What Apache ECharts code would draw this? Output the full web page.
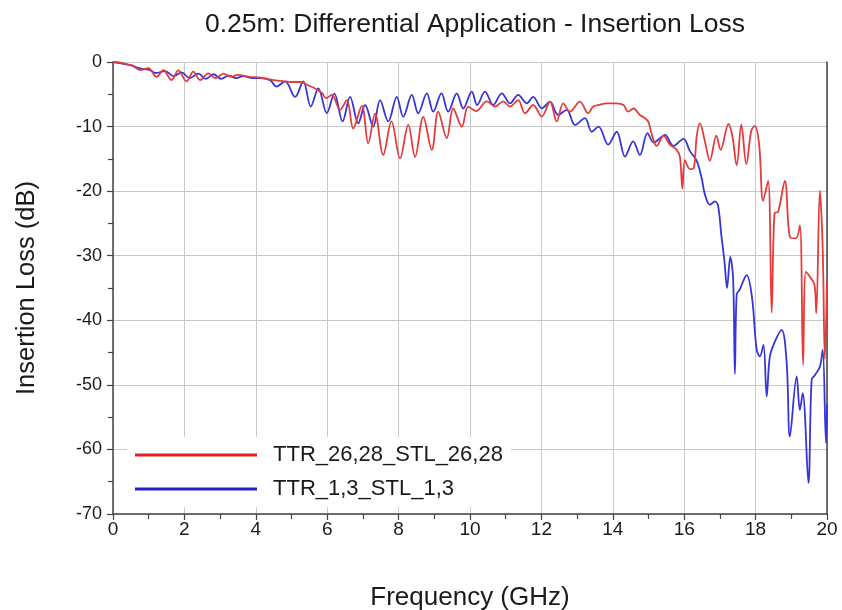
<!DOCTYPE html>
<html>
<head>
<meta charset="utf-8">
<script src="https://cdn.jsdelivr.net/npm/echarts@6/dist/echarts.min.js"></script>
<style>
html,body{margin:0;padding:0;background:#fff;}
#chart{width:842px;height:610px;}
</style>
</head>
<body>
<div id="chart"></div>
<script>
// ---- data ----
const titleText = '0.25m: Differential Application - Insertion Loss';
const xName = 'Frequency (GHz)';
const yName = 'Insertion Loss (dB)';
const seriesNames = ['TTR_26,28_STL_26,28', 'TTR_1,3_STL_1,3'];
const xTicks = [0, 2, 4, 6, 8, 10, 12, 14, 16, 18, 20];
const yTicks = [0, -10, -20, -30, -40, -50, -60, -70];

// TTR_26,28_STL_26,28 : [frequency GHz, loss dB]
const redCurve = [
  [0,0],[0.3,-0.2],[0.55,-0.6],[0.76,-1.25],[0.99,-0.95],[1.22,-2.3],[1.41,-1.25],[1.64,-2.8],
  [1.83,-1.3],[2.06,-3.0],[2.25,-1.5],[2.44,-2.8],[2.67,-1.75],[2.86,-2.5],[3.1,-1.8],[3.3,-2.3],
  [3.5,-2.0],[3.8,-2.3],[4.1,-2.4],[4.5,-2.8],[4.8,-3.0],[5.0,-3.1],[5.24,-3.1],[5.5,-3.7],
  [5.66,-4.1],[5.85,-4.8],[5.97,-5.6],[6.13,-5.1],[6.36,-7.4],[6.55,-5.9],[6.73,-10.3],[6.97,-6.8],
  [7.15,-12.6],[7.34,-8.0],[7.57,-14.4],[7.8,-9.2],[8.04,-14.9],[8.27,-9.75],[8.46,-14.7],[8.69,-8.5],
  [8.93,-13.6],[9.11,-7.7],[9.35,-11.8],[9.53,-7.2],[9.77,-10.0],[9.95,-6.9],[10.17,-7.6],[10.47,-6.1],
  [10.7,-6.9],[10.93,-6.1],[11.12,-6.9],[11.35,-5.9],[11.54,-7.95],[11.77,-6.66],[12.01,-8.46],[12.24,-6.14],
  [12.43,-9.2],[12.61,-6.4],[12.8,-7.7],[13.08,-6.14],[13.31,-7.95],[13.45,-6.9],[13.65,-6.6],[13.83,-6.4],
  [14.11,-6.4],[14.3,-6.66],[14.43,-7.7],[14.58,-7.2],[14.76,-8.2],[14.9,-8.7],[15.0,-9.3],[15.08,-11.0],
  [15.23,-13.0],[15.42,-11.4],[15.6,-12.8],[15.79,-13.6],[15.88,-14.7],[15.95,-19.6],[16.02,-15.2],[16.16,-16.6],
  [16.27,-16.4],[16.35,-11.5],[16.44,-9.5],[16.58,-12.3],[16.72,-15.3],[16.9,-11.4],[17.02,-13.6],[17.24,-9.6],
  [17.35,-11.5],[17.47,-16.0],[17.6,-9.7],[17.74,-15.8],[17.88,-10.6],[17.98,-9.9],[18.1,-12.8],[18.21,-21.5],
  [18.35,-18.4],[18.45,-38.8],[18.53,-23.4],[18.63,-23.2],[18.82,-18.4],[18.97,-27.2],[19.13,-27.3],[19.24,-25.3],
  [19.33,-46.9],[19.41,-32.5],[19.55,-33.5],[19.65,-34.5],[19.7,-38.9],[19.8,-19.9],[19.88,-29.0],[19.94,-46.0],
  [20.0,-34.0]
];

// TTR_1,3_STL_1,3 : [frequency GHz, loss dB]
const blueCurve = [
  [0,0],[0.3,-0.3],[0.5,-0.5],[0.75,-1.0],[1.0,-1.2],[1.2,-1.7],[1.46,-1.4],[1.7,-2.2],
  [1.92,-1.6],[2.15,-2.5],[2.39,-1.8],[2.6,-2.6],[2.81,-1.9],[3.03,-2.6],[3.24,-2.1],[3.45,-2.5],
  [3.65,-2.2],[3.9,-2.5],[4.12,-2.5],[4.4,-2.8],[4.58,-3.8],[4.82,-3.0],[5.1,-5.4],[5.33,-3.0],
  [5.54,-6.9],[5.75,-4.1],[5.99,-7.9],[6.2,-4.9],[6.43,-9.2],[6.64,-5.4],[6.87,-9.5],[7.06,-6.66],
  [7.29,-10.0],[7.48,-5.9],[7.71,-9.2],[7.95,-5.4],[8.13,-8.5],[8.37,-5.1],[8.55,-7.95],[8.79,-4.85],
  [8.97,-7.7],[9.2,-4.85],[9.39,-7.7],[9.63,-4.85],[9.81,-7.2],[10.05,-4.6],[10.2,-6.66],[10.42,-4.6],
  [10.65,-6.66],[10.89,-4.85],[11.12,-6.4],[11.35,-5.1],[11.59,-6.4],[11.77,-5.4],[12.01,-7.17],[12.24,-6.14],
  [12.47,-8.2],[12.71,-7.4],[12.94,-9.75],[13.22,-8.7],[13.41,-10.8],[13.6,-10.0],[13.87,-12.8],[14.11,-10.8],
  [14.34,-14.65],[14.57,-12.3],[14.76,-14.4],[14.97,-11.0],[15.15,-12.5],[15.3,-11.9],[15.46,-11.3],[15.7,-13.0],
  [15.98,-11.9],[16.16,-13.8],[16.35,-15.3],[16.49,-18.0],[16.58,-20.5],[16.72,-22.1],[16.86,-21.6],[16.95,-22.3],
  [17.04,-26.8],[17.13,-31.0],[17.2,-35.0],[17.29,-30.2],[17.37,-33.5],[17.42,-48.3],[17.47,-36.0],[17.55,-35.3],
  [17.75,-33.0],[17.9,-36.5],[18.03,-44.6],[18.12,-45.6],[18.22,-43.8],[18.31,-51.8],[18.4,-45.6],[18.54,-43.3],
  [18.73,-41.5],[18.87,-46.6],[18.96,-58.0],[19.15,-48.7],[19.24,-53.9],[19.32,-51.3],[19.48,-65.2],[19.57,-49.2],
  [19.66,-48.5],[19.8,-47.2],[19.88,-44.6],[19.97,-59.0],[20.0,-53.0]
];

// ---- chart ----
const FONT = '"Liberation Sans", Arial, sans-serif';
const chart = echarts.init(document.getElementById('chart'), null, {renderer: 'canvas'});
const option = {
  backgroundColor: '#ffffff',
  animation: false,
  title: {
    text: titleText,
    left: 470, top: 6, textAlign: 'center',
    textStyle: {fontFamily: FONT, fontSize: 26.5, fontWeight: 'normal', color: '#1a1a1a'}
  },
  grid: {left: 113, right: 15, top: 62, bottom: 96, containLabel: false, outerBoundsMode: 'none'},
  legend: {
    orient: 'vertical', left: 127, top: 437,
    backgroundColor: '#ffffff', padding: [6, 8, 6, 8],
    itemWidth: 122, itemHeight: 3, itemGap: 10, icon: 'rect',
    textStyle: {fontFamily: FONT, fontSize: 22, color: '#1a1a1a', padding: [0, 0, 0, 11], lineHeight: 24},
    data: seriesNames
  },
  xAxis: {
    type: 'value', min: xTicks[0], max: xTicks[xTicks.length - 1], interval: 2,
    name: xName, nameLocation: 'middle', nameGap: 71,
    nameTextStyle: {fontFamily: FONT, fontSize: 26, color: '#1a1a1a'},
    axisLine: {show: true, onZero: false, lineStyle: {color: '#444', width: 1.5}},
    axisTick: {show: true, length: 6, lineStyle: {color: '#444', width: 1.2}},
    minorTick: {show: true, splitNumber: 2, length: 5, lineStyle: {color: '#444', width: 1.2}},
    axisLabel: {fontFamily: FONT, fontSize: 19, color: '#1a1a1a', margin: 6},
    splitLine: {show: true, lineStyle: {color: '#c8c8c8', width: 1}}
  },
  yAxis: [{
    type: 'value', min: yTicks[yTicks.length - 1], max: yTicks[0], interval: 10,
    name: yName, nameLocation: 'middle', nameGap: 73, nameRotate: 90,
    nameTextStyle: {fontFamily: FONT, fontSize: 25.5, color: '#1a1a1a'},
    axisLine: {show: true, lineStyle: {color: '#444', width: 1.5}},
    axisTick: {show: true, length: 6, lineStyle: {color: '#444', width: 1.2}},
    minorTick: {show: true, splitNumber: 2, length: 5, lineStyle: {color: '#444', width: 1.2}},
    axisLabel: {fontFamily: FONT, fontSize: 18, color: '#1a1a1a', margin: 11},
    splitLine: {show: true, lineStyle: {color: '#c8c8c8', width: 1}}
  }, {
    type: 'value', min: yTicks[yTicks.length - 1], max: yTicks[0], interval: 10, position: 'right',
    axisLine: {show: true, lineStyle: {color: '#444', width: 1.5}},
    axisTick: {show: false}, axisLabel: {show: false}, splitLine: {show: false}
  }],
  series: [{
    name: seriesNames[0], type: 'line', data: redCurve, yAxisIndex: 0,
    showSymbol: false, symbol: 'none', smooth: 0.35, z: 3,
    lineStyle: {color: '#e63b3b', width: 1.8}, itemStyle: {color: '#e62020'}
  }, {
    name: seriesNames[1], type: 'line', data: blueCurve, yAxisIndex: 0,
    showSymbol: false, symbol: 'none', smooth: 0.35, z: 2,
    lineStyle: {color: '#3535d8', width: 1.8}, itemStyle: {color: '#2020d0'}
  }]
};
chart.setOption(option);
</script>
</body>
</html>
